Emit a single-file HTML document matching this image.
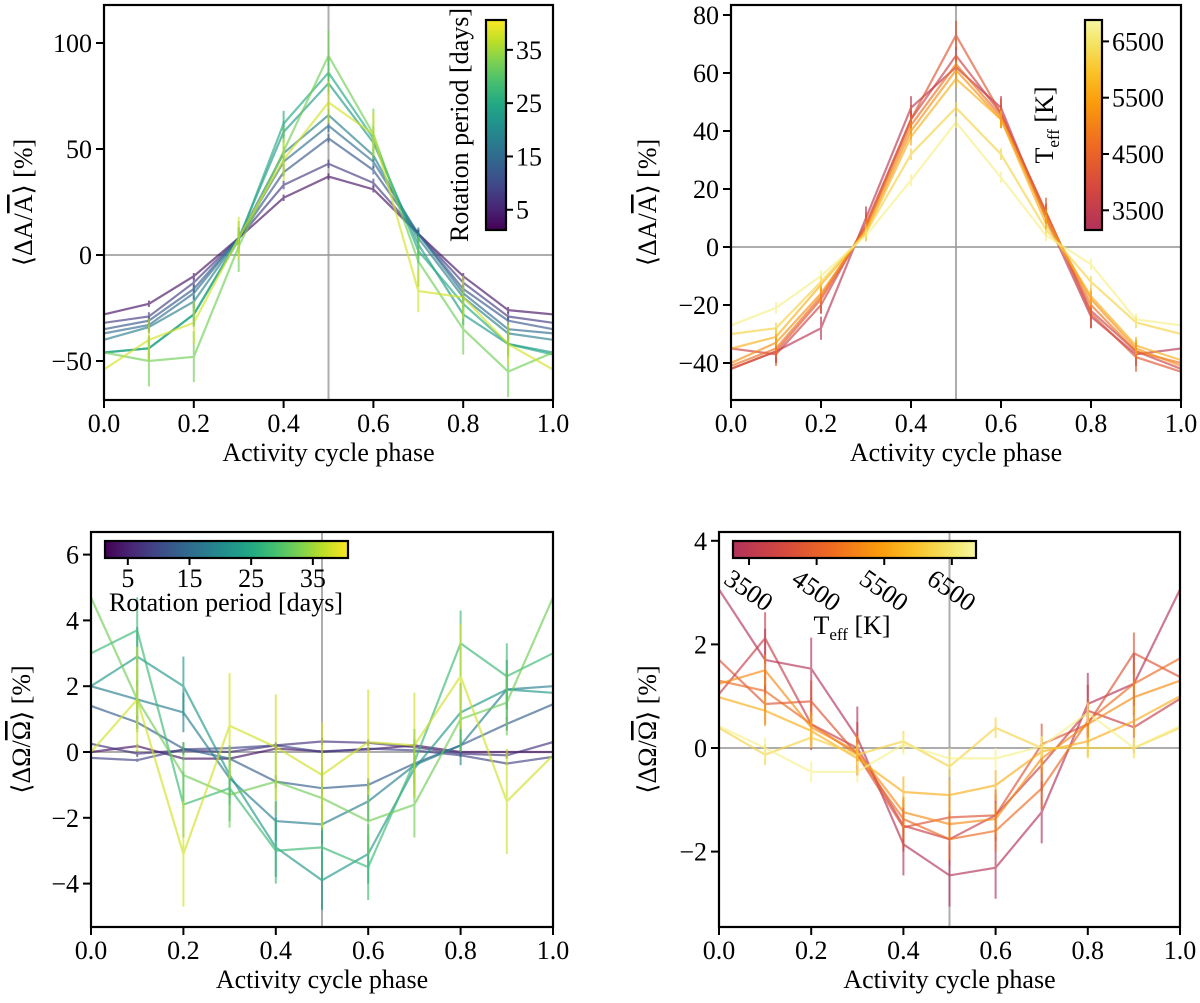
<!DOCTYPE html>
<html><head><meta charset="utf-8"><style>
body{margin:0;background:#fff}
svg, svg text, svg tspan{font-family:"Liberation Serif","Times New Roman","DejaVu Serif",serif !important;fill:#000}
</style></head><body>
<svg id="fig" width="1200" height="998" viewBox="0 0 1200 998" xmlns="http://www.w3.org/2000/svg" font-family="'Liberation Serif', 'Times New Roman', serif">
<defs>
<linearGradient id="vir" x1="0" y1="0" x2="1" y2="0"></linearGradient>
<linearGradient id="virV" x1="0" y1="1" x2="0" y2="0"></linearGradient>
<linearGradient id="inf" x1="0" y1="0" x2="1" y2="0"></linearGradient>
<linearGradient id="infV" x1="0" y1="1" x2="0" y2="0"></linearGradient>
</defs>
</svg>
<script>
const phases=[0,0.1,0.2,0.3,0.4,0.5,0.6,0.7,0.8,0.9,1.0];
const xTicks=[0,0.2,0.4,0.6,0.8,1.0];
const xTickLabels=["0.0","0.2","0.4","0.6","0.8","1.0"];
// Panel 1: amplitude vs rotation period
const p1Periods=[3,8,12,15,18,22,25,32,38];
const p1S0=[-28,-23,-10,8,27,37,31,10,-10,-26,-28];
const p1S1=[-32,-29,-13,8,33,43,34,10,-13,-29,-32];
const p1S2=[-35,-31,-16,8,39,55,40,10,-16,-31,-35];
const p1S3=[-37,-33,-18,8,44,61,44,10,-18,-35,-37];
const p1S4=[-40,-34,-22,8,48,66,47,8,-20,-37,-40];
const p1S5=[-46,-44,-28,8,58,81,53,5,-28,-42,-46];
const p1S6=[-46,-44,-28,7,62,86,55,2,-23,-42,-47];
const p1S7=[-46,-50,-48,4,49,94,57,-3,-35,-55,-46];
const p1S8=[-54,-40,-32,8,45,72,57,-17,-20,-42,-54];
const p1Err=[1.5,2,2,3,3,5,6,12,10];
const p1YTicks=[-50,0,50,100];
// Panel 2: amplitude vs Teff
const p2Teff=[3300,3700,4200,4700,5200,5700,6200,6700];
const p2S0=[-42,-36,-28,10,48,62,48,10,-24,-37,-35];
const p2S1=[-35,-37,-20,8,44,66,46,12,-22,-36,-42];
const p2S2=[-42,-36,-18,7,44,73,46,12,-23,-38,-43];
const p2S3=[-41,-35,-17,7,42,63,45,11,-20,-36,-40];
const p2S4=[-40,-33,-16,6,40,61,44,10,-18,-35,-41];
const p2S5=[-35,-31,-13,5,38,58,44,8,-17,-34,-39];
const p2S6=[-30,-28,-12,5,32,48,32,6,-12,-26,-30];
const p2S7=[-27,-21,-10,4,23,43,24,4,-6,-25,-27];
const p2Err=[4,3,5,3,3,3,2,2];
const p2YTicks=[-40,-20,0,20,40,60,80];
// Panel 3: rotation rate vs rotation period
const p3Periods=[3,7,9,13,18,22,28,32,38];
const p3S0=[0,0.18,-0.2,-0.2,0.1,0.02,0.08,0.2,0,0,0];
const p3S1=[0.25,-0.05,0.05,0,0.2,0.32,0.28,0.15,-0.05,-0.1,0.3];
const p3S2=[-0.18,-0.25,0.08,0.12,0.2,0,0.1,0.05,-0.1,-0.35,-0.15];
const p3S3=[1.4,0.9,0.1,-0.2,-0.9,-1.1,-1.0,-0.35,0.2,0.85,1.45];
const p3S4=[2.0,1.6,1.2,-0.8,-2.1,-2.2,-1.5,-0.4,0.2,1.9,2.0];
const p3S5=[2.0,2.9,2.0,-0.7,-2.9,-3.9,-3.1,-0.5,1.2,1.9,1.8];
const p3S6=[3.0,3.7,-1.6,-1.1,-3.0,-2.9,-3.5,-0.3,3.3,2.3,3.0];
const p3S7=[4.7,1.6,-0.7,-1.3,-0.9,-1.4,-2.1,-1.6,1.0,1.5,4.7];
const p3S8=[0,1.6,-3.1,0.8,0.15,-0.7,0.3,0.2,2.3,-1.5,-0.1];
const p3Err=[0.05,0.1,0.05,0.2,0.6,0.9,1.0,1.0,1.6];
const p3YTicks=[-4,-2,0,2,4,6];
// Panel 4: rotation rate vs Teff
const p4Teff=[3300,3700,4200,4700,5200,5700,6200,6700];
const p4S0=[3.06,1.7,1.53,0.2,-1.86,-2.46,-2.31,-1.24,0.85,1.24,3.06];
const p4S1=[1.04,2.12,0.46,0.0,-1.5,-1.76,-1.3,-0.33,0.72,0.4,0.95];
const p4S2=[1.7,0.85,0.9,-0.13,-1.53,-1.34,-1.3,0.07,0.46,1.83,1.37];
const p4S3=[1.3,1.1,0.46,-0.13,-1.37,-1.76,-1.6,-0.78,0.52,1.24,1.73];
const p4S4=[1.24,1.5,0.4,-0.07,-1.24,-1.47,-1.37,-0.2,0.46,0.98,1.3];
const p4S5=[0.98,0.72,0.33,-0.2,-0.85,-0.91,-0.72,-0.07,0.13,0.52,1.0];
const p4S6=[0.39,-0.13,0.2,-0.13,0.13,-0.36,0.39,0,0,0,0.39];
const p4S7=[0.42,0,-0.46,-0.46,0.07,-0.2,-0.2,0.03,0.68,0,0.42];
const p4Err=[0.6,0.5,0.4,0.4,0.3,0.3,0.2,0.2];
const p4YTicks=[-2,0,2,4];
const periodCbTicks=[5,15,25,35];
const teffCbTicks=[3500,4500,5500,6500];

const NS="http://www.w3.org/2000/svg";
const FONT="'Liberation Serif', 'Times New Roman', serif";
const svg=document.getElementById('fig');
function mk(tag,attrs,parent){const e=document.createElementNS(NS,tag);for(const k in attrs)e.setAttribute(k,attrs[k]);if(tag==='text')e.setAttribute('font-family',FONT);(parent||svg).appendChild(e);return e;}
const virStops=[[0,'#440154'],[0.1,'#482475'],[0.2,'#414487'],[0.3,'#355f8d'],[0.4,'#2a788e'],[0.5,'#21918c'],[0.6,'#22a884'],[0.7,'#44bf70'],[0.8,'#7ad151'],[0.9,'#bddf26'],[1,'#fde725']];
const infStops=[[0,'#b2325a'],[0.2,'#d4483f'],[0.4,'#ee6a22'],[0.6,'#fa9a0c'],[0.75,'#fac228'],[0.9,'#f4e66a'],[1,'#f8f7a2']];
['vir','virV'].forEach(id=>virStops.forEach(s=>mk('stop',{offset:s[0],'stop-color':s[1]},document.getElementById(id))));
['inf','infV'].forEach(id=>infStops.forEach(s=>mk('stop',{offset:s[0],'stop-color':s[1]},document.getElementById(id))));
function hx(c){return [1,3,5].map(i=>parseInt(c.substr(i,2),16));}
function cmap(stops,t){t=Math.max(0,Math.min(1,t));for(let i=1;i<stops.length;i++){if(t<=stops[i][0]){const a=stops[i-1],b=stops[i];const f=(t-a[0])/(b[0]-a[0]);const ca=hx(a[1]),cb=hx(b[1]);return 'rgb('+ca.map((v,j)=>Math.round(v+(cb[j]-v)*f)).join(',')+')';}}return stops[stops.length-1][1];}

function panel(cfg){
  const g=mk('g',{});
  
  
  const X=p=>cfg.x0+(cfg.x1-cfg.x0)*p;
  const Y=v=>cfg.yZero-v*cfg.ppu;
  const clip=mk('clipPath',{id:'clip-'+cfg.name},g);
  mk('rect',{x:cfg.x0,y:cfg.top,width:cfg.x1-cfg.x0,height:cfg.bot-cfg.top},clip);
  const inner=mk('g',{'clip-path':'url(#clip-'+cfg.name+')'},g);
  const hz=mk('line',{x1:cfg.x0,x2:cfg.x1,y1:Y(0),y2:Y(0),stroke:'#999',"stroke-width":2,opacity:0.8},inner);
  
  
  const vl=mk('line',{x1:X(0.5),x2:X(0.5),y1:cfg.top,y2:cfg.bot,stroke:'#999',"stroke-width":2,opacity:0.8},inner);
  
  
  cfg.series.forEach((s,i)=>{
    const col=cmap(cfg.stops,(cfg.cvals[i]-cfg.cmin)/(cfg.cmax-cfg.cmin));
    const sg=mk('g',{opacity:0.65},inner);
    
    
    const pts=s.map((v,j)=>X(phases[j]).toFixed(1)+','+Y(v).toFixed(1)).join(' ');
    mk('polyline',{points:pts,fill:'none',stroke:col,'stroke-width':2.2},sg);
    s.forEach((v,j)=>{
      const e=cfg.err[i];
      mk('line',{x1:X(phases[j]),x2:X(phases[j]),y1:Y(v-e),y2:Y(v+e),stroke:col,'stroke-width':2},sg);
    });
  });
  const sp=mk('rect',{x:cfg.x0,y:cfg.top,width:cfg.x1-cfg.x0,height:cfg.bot-cfg.top,fill:'none',stroke:'#000','stroke-width':2.2},g);
  
  
  xTicks.forEach((t,i)=>{
    mk('line',{x1:X(t),x2:X(t),y1:cfg.bot,y2:cfg.bot+8,stroke:'#000','stroke-width':2},g);
    const tx=mk('text',{x:X(t),y:cfg.bot+32,'text-anchor':'middle','font-size':26},g);
    tx.textContent=xTickLabels[i];
    
    
  });
  cfg.yticks.forEach(t=>{
    mk('line',{x1:cfg.x0-8,x2:cfg.x0,y1:Y(t),y2:Y(t),stroke:'#000','stroke-width':2},g);
    const tx=mk('text',{x:cfg.x0-12,y:Y(t)+9,'text-anchor':'end','font-size':26},g);
    tx.textContent=(t<0?'\u2212'+(-t):String(t));
    
    
  });
  const xl=mk('text',{x:(cfg.x0+cfg.x1)/2,y:cfg.bot+61,'text-anchor':'middle','font-size':26},g);
  xl.textContent='Activity cycle phase';
  
  
  const yl=mk('text',{transform:'translate('+cfg.ylx+','+((cfg.top+cfg.bot)/2)+') rotate(-90)','text-anchor':'middle','font-size':26},g);
  
  
  yl.innerHTML='\u27E8\u0394'+cfg.sym+'/<tspan text-decoration="overline">'+cfg.sym+'</tspan>\u27E9 [%]';
  return g;
}
function cbar(c){
  const g=mk('g',{});
  
  
  const r=mk('rect',{x:c.x,y:c.y,width:c.w,height:c.h,fill:'url(#'+c.grad+')',stroke:'#000','stroke-width':2.2},g);
  
  
  c.ticks.forEach(t=>{
    const f=(t-c.min)/(c.max-c.min);
    if(c.vert){
      const yy=c.y+c.h-f*c.h;
      mk('line',{x1:c.x+c.w,x2:c.x+c.w+7,y1:yy,y2:yy,stroke:'#000','stroke-width':2},g);
      const tx=mk('text',{x:c.x+c.w+10,y:yy+9,'font-size':26},g);
      tx.textContent=t;
      
      
    } else {
      const xx=c.x+f*c.w;
      mk('line',{x1:xx,x2:xx,y1:c.y+c.h,y2:c.y+c.h+7,stroke:'#000','stroke-width':2},g);
      const tx=mk('text',{x:xx,y:c.labY+9,'font-size':26,'text-anchor':'middle',transform:c.rot?('rotate(35 '+xx+' '+c.labY+')'):''},g);
      tx.textContent=t;
      
      
    }
  });
  const lb=mk('text',{'font-size':26,'text-anchor':'middle',transform:c.lt},g);
  
  
  lb.innerHTML=c.label;
}
panel({name:'panel-amplitude-period',x0:104,x1:553,top:5,bot:400,yZero:255,ppu:2.12,yticks:p1YTicks,ylx:32,sym:'A',
  series:[p1S0,p1S1,p1S2,p1S3,p1S4,p1S5,p1S6,p1S7,p1S8],err:p1Err,cvals:p1Periods,cmin:1.2,cmax:40.6,stops:virStops});
panel({name:'panel-amplitude-teff',x0:731,x1:1181,top:5,bot:400,yZero:247,ppu:2.9,yticks:p2YTicks,ylx:656,sym:'A',
  series:[p2S0,p2S1,p2S2,p2S3,p2S4,p2S5,p2S6,p2S7],err:p2Err,cvals:p2Teff,cmin:3150,cmax:6880,stops:infStops});
panel({name:'panel-rotation-period',x0:91,x1:553,top:532,bot:927,yZero:752,ppu:32.9,yticks:p3YTicks,ylx:30,sym:'\u03A9',
  series:[p3S0,p3S1,p3S2,p3S3,p3S4,p3S5,p3S6,p3S7,p3S8],err:p3Err,cvals:p3Periods,cmin:1.3,cmax:40.7,stops:virStops});
panel({name:'panel-rotation-teff',x0:719,x1:1180,top:532,bot:927,yZero:748,ppu:51.8,yticks:p4YTicks,ylx:656,sym:'\u03A9',
  series:[p4S0,p4S1,p4S2,p4S3,p4S4,p4S5,p4S6,p4S7],err:p4Err,cvals:p4Teff,cmin:3263,cmax:6857,stops:infStops});
cbar({name:'colorbar-period-top',vert:true,x:486,y:20,w:20,h:210,grad:'virV',min:1.2,max:40.6,ticks:periodCbTicks,
  lt:'translate(468,125) rotate(-90)',label:'Rotation period [days]'});
cbar({name:'colorbar-teff-top',vert:true,x:1085,y:20,w:17,h:210,grad:'infV',min:3150,max:6880,ticks:teffCbTicks,
  lt:'translate(1053,125) rotate(-90)',label:'T<tspan font-size="17" dy="6">eff</tspan><tspan dy="-6"> [K]</tspan>'});
cbar({name:'colorbar-period-bottom',vert:false,x:105,y:541,w:243,h:17,grad:'vir',min:1.3,max:40.7,ticks:periodCbTicks,labY:578,
  lt:'translate(226,611)',label:'Rotation period [days]'});
cbar({name:'colorbar-teff-bottom',vert:false,x:733,y:541,w:243,h:17,grad:'inf',min:3263,max:6857,ticks:teffCbTicks,labY:590,rot:true,
  lt:'translate(852,634)',label:'T<tspan font-size="17" dy="6">eff</tspan><tspan dy="-6"> [K]</tspan>'});
</script>
</body></html>
